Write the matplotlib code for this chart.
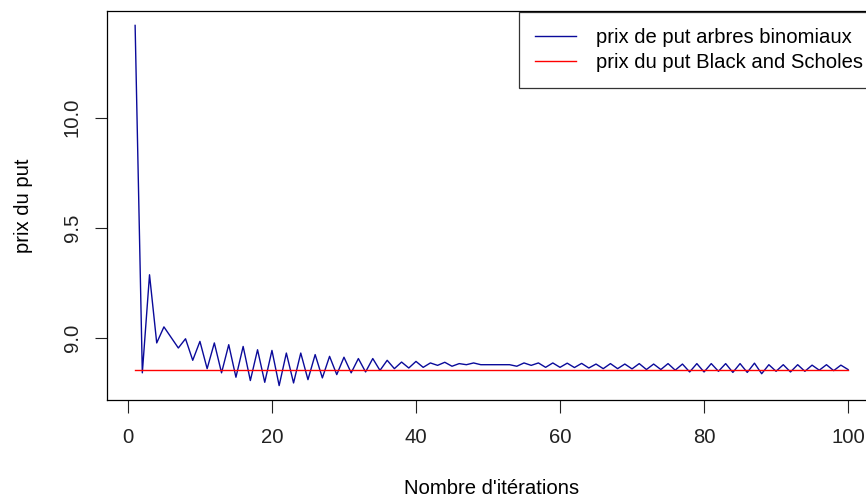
import numpy as np
import matplotlib
matplotlib.use("Agg")
import matplotlib.pyplot as plt

plt.rcParams['font.family'] = ['Liberation Sans', 'DejaVu Sans']

# nombre de pas de l'arbre binomial
iterations = np.arange(1, 101)

# prix du put obtenu par l'arbre binomial pour chaque nombre de pas
prix_binomial = [
    10.420, 8.840, 9.286, 8.976, 9.049, 9.001, 8.953, 8.995, 8.897, 8.983,
    8.859, 8.976, 8.840, 8.968, 8.820, 8.960, 8.805, 8.945, 8.797, 8.942,
    8.782, 8.930, 8.794, 8.930, 8.809, 8.923, 8.817, 8.915, 8.832, 8.911,
    8.840, 8.905, 8.844, 8.905, 8.851, 8.897, 8.859, 8.889, 8.862, 8.892,
    8.865, 8.885, 8.874, 8.888, 8.870, 8.882, 8.877, 8.885, 8.877, 8.877,
    8.877, 8.877, 8.877, 8.870, 8.885, 8.874, 8.885, 8.865, 8.885, 8.865,
    8.884, 8.864, 8.883, 8.862, 8.880, 8.859, 8.882, 8.859, 8.880, 8.858,
    8.882, 8.855, 8.880, 8.855, 8.882, 8.852, 8.880, 8.844, 8.882, 8.844,
    8.882, 8.847, 8.882, 8.842, 8.882, 8.842, 8.884, 8.836, 8.877, 8.847,
    8.877, 8.844, 8.877, 8.847, 8.875, 8.852, 8.877, 8.850, 8.875, 8.855,
]

# prix Black and Scholes (constant)
prix_bs = 8.855

fs = 14.6

fig = plt.figure(figsize=(8.66, 5), dpi=100)
ax = fig.add_axes([106.6 / 866, 100 / 500, 770 / 866, 389 / 500])

ax.plot(iterations, prix_binomial, color='#0a0a9a', lw=1.0,
        label='prix de put arbres binomiaux')
ax.plot(iterations, [prix_bs] * len(iterations), color='red', lw=1.0,
        label='prix du put Black and Scholes')

ax.margins(x=0.04, y=0.04)
ax.set_xticks([0, 20, 40, 60, 80, 100])
ax.set_yticks([9.0, 9.5, 10.0])
ax.set_yticklabels(['9.0', '9.5', '10.0'], rotation=90, va='center')
ax.tick_params(length=9, width=0.8, labelsize=fs, colors='#222222')
ax.tick_params(axis='x', pad=11)
ax.tick_params(axis='y', pad=9)
for s in ax.spines.values():
    s.set_linewidth(0.9)
    s.set_color('black')
ax.spines['right'].set_visible(False)

ax.set_xlabel("Nombre d'itérations", fontsize=fs, labelpad=23)
ax.set_ylabel('prix du put', fontsize=fs, labelpad=21)

leg = ax.legend(loc='upper left', bbox_to_anchor=(519 / 866, 1 - 11.7 / 500),
                bbox_transform=fig.transFigure, fontsize=fs, frameon=True,
                fancybox=False, edgecolor='black', borderpad=0.8,
                labelspacing=0.3, handlelength=2.0, handletextpad=1.0,
                borderaxespad=0)
leg.get_frame().set_linewidth(0.9)

fig.savefig('out.png', dpi=100)
